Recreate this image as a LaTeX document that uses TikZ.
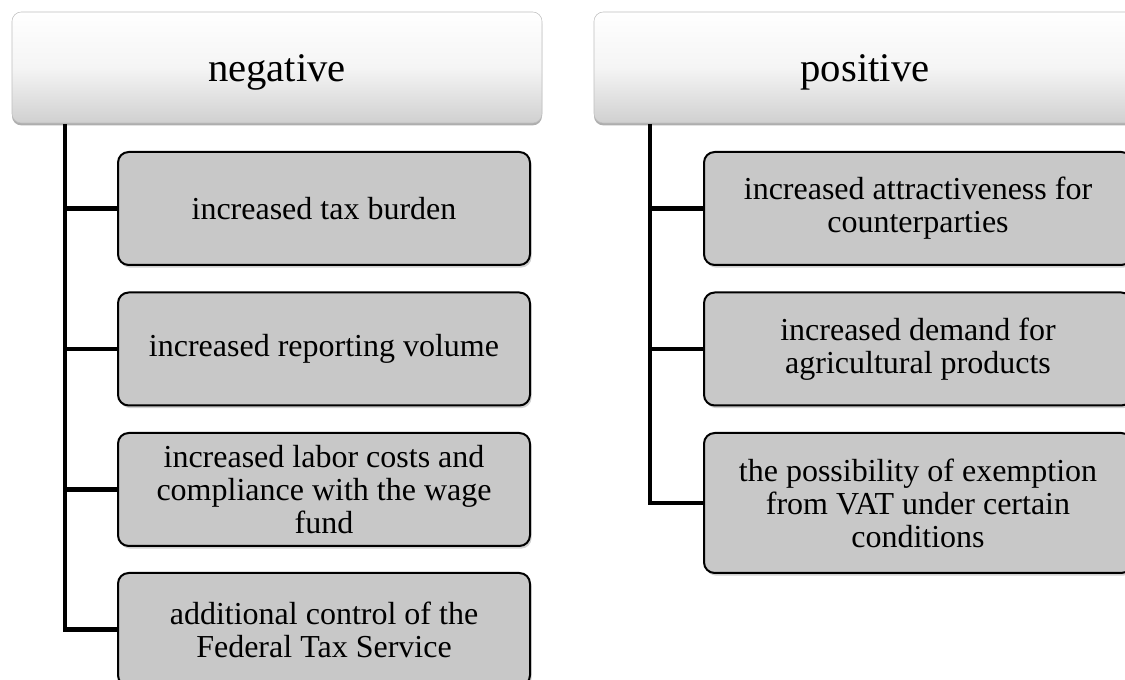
\documentclass[tikz,border=0pt]{standalone}
\usepackage{fontspec}
\setmainfont{Liberation Serif}
\usetikzlibrary{shadows}
\definecolor{boxgray}{RGB}{200,200,200}
\definecolor{headbot}{RGB}{208,208,208}
\tikzset{
  headbox/.style={rounded corners=7pt, draw=black!25, line width=0.4pt,
    top color=white, bottom color=headbot, middle color=white!96!black,
    minimum height=83.25pt, inner sep=0pt, text height=27.6pt, text depth=6.6pt,
    drop shadow={shadow xshift=0pt, shadow yshift=-1.8pt, opacity=0.45, fill=black!70},
    font=\fontsize{30.5pt}{32pt}\selectfont},
  itembox/.style={rounded corners=8pt, draw=black, line width=1.5pt, fill=boxgray,
    minimum height=84.75pt, align=center, inner sep=0pt,
    drop shadow={shadow xshift=1.2pt, shadow yshift=-2pt, opacity=0.3, fill=black!60},
    font=\fontsize{24pt}{24.8pt}\selectfont},
  conn/.style={line width=3.4pt, draw=black},
}
\begin{document}
\begin{tikzpicture}[x=0.75pt,y=-0.75pt]
\useasboundingbox (0,0) rectangle (1125,680);
\clip (0,0) rectangle (1125,680);
% headers
\node[headbox, minimum width=397.5pt] (hneg) at (277,67.5) {negative};
\node[headbox, minimum width=406.5pt] (hpos) at (865,67.5) {positive};
% negative items
\node[itembox, minimum width=309pt] (n1) at (324,208.5) {increased tax burden};
\node[itembox, minimum width=309pt] (n2) at (324,349) {increased reporting volume};
\node[itembox, minimum width=309pt] (n3) at (324,489.5) {increased labor costs and\\compliance with the wage\\fund};
\node[itembox, minimum width=309pt] (n4) at (324,629.5) {additional control of the\\Federal Tax Service};
% positive items
\node[itembox, minimum width=321pt] (p1) at (918,208.5) {increased attractiveness for\\counterparties};
\node[itembox, minimum width=321pt] (p2) at (918,349) {increased demand for\\agricultural products};
\node[itembox, minimum width=321pt, minimum height=105pt] (p3) at (918,503) {the possibility of exemption\\from VAT under certain\\conditions};
% connectors
\coordinate (nl) at (65,124);
\coordinate (pl) at (650,124);
\draw[conn] (nl) |- (n4.west);
\draw[conn] (nl |- n1.west) -- (n1.west);
\draw[conn] (nl |- n2.west) -- (n2.west);
\draw[conn] (nl |- n3.west) -- (n3.west);
\draw[conn] (pl) |- (p3.west);
\draw[conn] (pl |- p1.west) -- (p1.west);
\draw[conn] (pl |- p2.west) -- (p2.west);
\end{tikzpicture}
\end{document}
